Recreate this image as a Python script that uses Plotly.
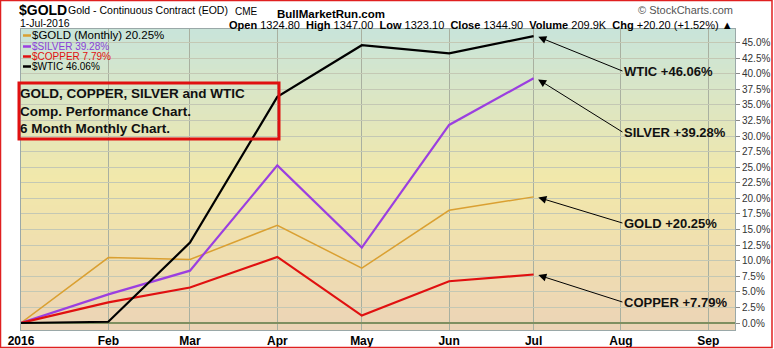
import plotly.graph_objects as go

# ---- data ----
months = ["2016-01-01", "2016-02-01", "2016-03-01", "2016-04-01",
          "2016-05-01", "2016-06-01", "2016-07-01"]
gold = [0, 10.5, 10.2, 15.7, 8.8, 18.1, 20.25]
silver = [0, 4.6, 8.4, 25.3, 12.1, 31.8, 39.28]
copper = [0, 3.3, 5.7, 10.6, 1.2, 6.7, 7.79]
wtic = [0, 0.2, 12.9, 36.3, 44.6, 43.3, 46.06]

tick_dates = ["2016-01-01", "2016-02-01", "2016-03-01", "2016-04-01", "2016-05-01",
              "2016-06-01", "2016-07-01", "2016-08-01", "2016-09-01"]
tick_text = ["2016", "Feb", "Mar", "Apr", "May", "Jun", "Jul", "Aug", "Sep"]
y_ticks = [i * 2.5 for i in range(19)]

series_names = ["$GOLD (Monthly) 20.25%", "$SILVER 39.28%", "$COPPER 7.79%", "$WTIC 46.06%"]
callouts = ["WTIC +46.06%", "SILVER +39.28%", "GOLD +20.25%", "COPPER +7.79%"]

# ---- layout geometry (pixels) ----
W, H = 774, 349
L, R, T, B = 21, 735, 29, 330


def px(x):
    return (x - L) / (R - L)


def py(y):
    return (B - y) / (B - T)


fig = go.Figure()
colors = ["#DAA032", "#9B3FE0", "#E01010", "#000000"]
widths = [1.5, 2.2, 2.2, 2.2]
for vals, col, w, nm in zip([gold, silver, copper, wtic], colors, widths, series_names):
    fig.add_trace(go.Scatter(x=months, y=vals, mode="lines", name=nm,
                             line=dict(color=col, width=w), showlegend=False))

shapes = []


def lerp(c1, c2, t):
    return tuple(round(a + (b - a) * t) for a, b in zip(c1, c2))


top_c = (200, 228, 218)
mid_c = (242, 232, 170)
bot_c = (236, 212, 182)
N = 60
for i in range(N):
    f0 = i / N
    f1 = (i + 1) / N
    fm = (f0 + f1) / 2
    if fm < 0.5:
        c = lerp(bot_c, mid_c, fm / 0.5)
    else:
        c = lerp(mid_c, top_c, (fm - 0.5) / 0.5)
    shapes.append(dict(type="rect", xref="x domain", yref="y domain", x0=0, x1=1,
                       y0=f0, y1=f1 + 0.002, fillcolor="rgb(%d,%d,%d)" % c,
                       line=dict(width=0), layer="below"))

# outer red frame
shapes.append(dict(type="rect", xref="paper", yref="paper",
                   x0=px(0.5), x1=px(772), y0=py(347.5), y1=py(0.5),
                   line=dict(color="#E02020", width=1.5), layer="above"))
# red text box
shapes.append(dict(type="rect", xref="paper", yref="paper",
                   x0=px(19), x1=px(279), y0=py(139), y1=py(83),
                   line=dict(color="#E01010", width=3), layer="above"))
# legend dashes
leg_y = [35.5, 46.5, 56.5, 66.5]
for yy, col in zip(leg_y, colors):
    shapes.append(dict(type="line", xref="paper", yref="paper",
                       x0=px(23), x1=px(31), y0=py(yy), y1=py(yy),
                       line=dict(color=col, width=2.5), layer="above"))

ann = []
SANS = "Liberation Sans, Arial, sans-serif"


def txt(x, y, s, size, color="#000", family=SANS, xanchor="left", bold=False, pad=1):
    ann.append(dict(x=px(x), y=py(y), xref="paper", yref="paper", text=s,
                    showarrow=False, xanchor=xanchor, yanchor="middle", borderpad=pad,
                    font=dict(size=size, color=color, family=family,
                              weight="bold" if bold else "normal")))


# header
txt(17, 10, "$GOLD", 14, bold=True)
txt(66, 10, "Gold - Continuous Contract (EOD)", 10.5)
txt(233, 11, "CME", 10)
txt(18, 22.5, "1-Jul-2016", 10.5)
txt(275, 14, "BullMarketRun.com", 11.5, bold=True)
txt(735, 10, "© StockCharts.com", 11, color="#555", xanchor="right")
txt(735, 25.5, "<b>Open</b> 1324.80  <b>High</b> 1347.00  <b>Low</b> 1323.10  "
    "<b>Close</b> 1344.90  <b>Volume</b> 209.9K  <b>Chg</b> +20.20 (+1.52%) ▲",
    11, xanchor="right")

# legend text
leg_colors = ["#000000", "#8A3FD8", "#E01010", "#000000"]
leg_sizes = [11.5, 10, 10, 10]
for yy, nm, col, sz in zip(leg_y, series_names, leg_colors, leg_sizes):
    txt(31, yy, nm, sz, color=col, pad=0)

# boxed title
ann.append(dict(x=px(18), y=py(111.5), xref="paper", yref="paper",
                text="GOLD, COPPER, SILVER and WTIC<br>Comp. Performance Chart.<br>6 Month Monthly Chart.",
                showarrow=False, xanchor="left", yanchor="middle", align="left",
                font=dict(size=13.5, color="#111", family=SANS, weight="bold")))

# callouts with arrows
ends = [wtic[-1], silver[-1], gold[-1], copper[-1]]
tails_y = [71, 132, 223, 302]
ppu = (323 - 42.7) / 45.0
for label, v, ty in zip(callouts, ends, tails_y):
    tip_y = 323 - v * ppu
    ann.append(dict(x="2016-07-02", y=v, xref="x", yref="y", text=label,
                    showarrow=True, arrowhead=2, arrowsize=1.6, arrowwidth=1,
                    arrowcolor="#000", ax=86, ay=ty - tip_y, standoff=2,
                    xanchor="left", yanchor="middle",
                    font=dict(size=13, color="#111", family=SANS, weight="bold")))

fig.update_layout(
    width=W, height=H,
    margin=dict(l=L, r=W - R, t=T, b=H - B, autoexpand=False),
    paper_bgcolor="white", plot_bgcolor="rgb(236,225,180)",
    shapes=shapes, annotations=ann,
    xaxis=dict(type="date", range=["2016-01-01", "2016-09-10 12:00"],
               tickvals=tick_dates, ticktext=tick_text, ticks="",
               showgrid=True, gridcolor="#a9b0a0", gridwidth=1,
               tickfont=dict(size=12, color="#000", weight="bold", family=SANS),
               showline=True, linecolor="#9aa8a8", mirror=True, zeroline=False,
               fixedrange=True, automargin=False),
    yaxis=dict(range=[(323 - 330) / ppu, (323 - 29) / ppu], side="right",
               tickvals=y_ticks, ticktext=["%.1f%%" % v for v in y_ticks],
               ticks="outside", ticklen=4, tickcolor="#888",
               tickfont=dict(size=10, color="#333", family=SANS),
               showgrid=True, gridcolor="#c4c8b4", gridwidth=1,
               zeroline=True, zerolinecolor="#7f8f60", zerolinewidth=1.5,
               showline=True, linecolor="#9aa8a8", mirror=True, fixedrange=True,
               automargin=False),
    showlegend=False,
)

fig.write_html("out.html")
